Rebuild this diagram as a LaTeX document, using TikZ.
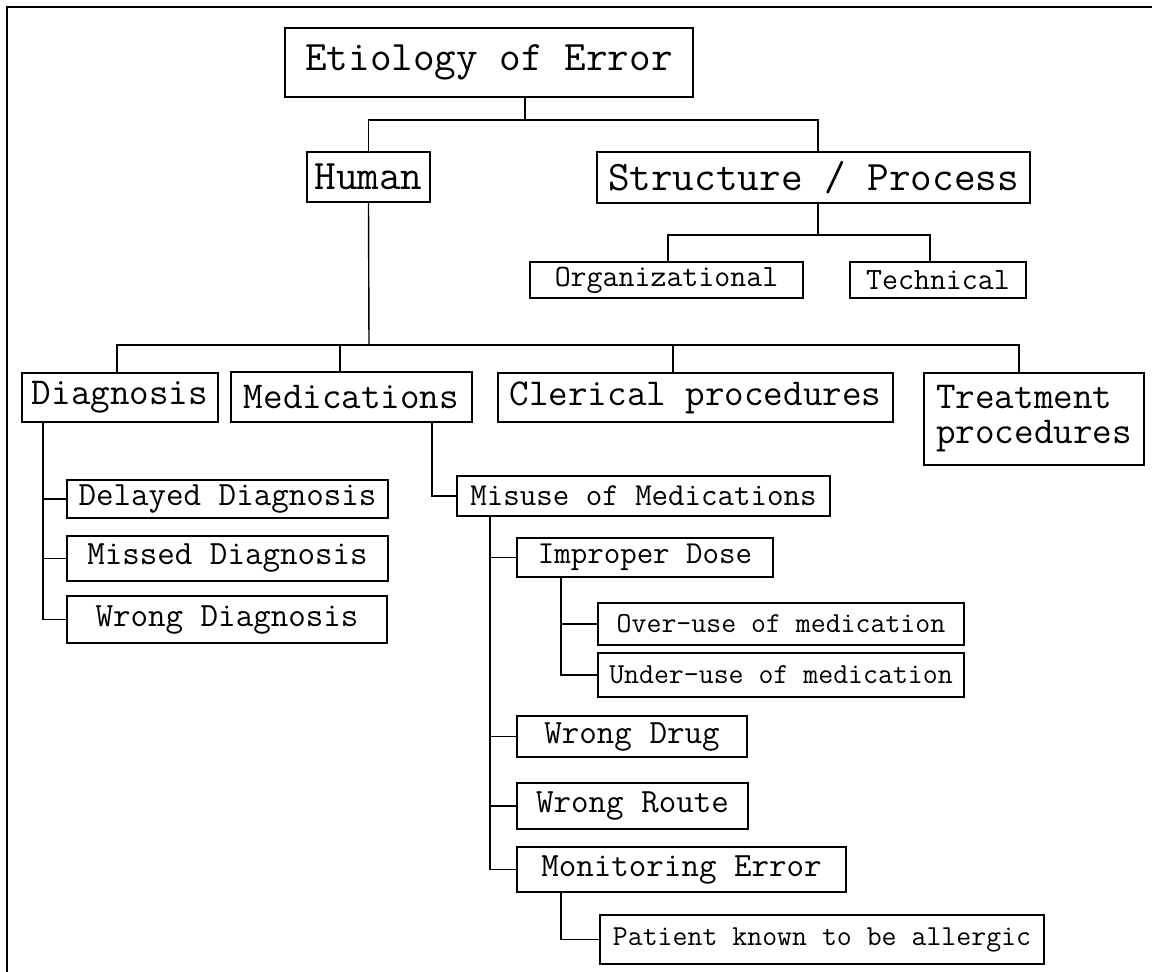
\documentclass[tikz,border=0pt]{standalone}
\usepackage{fontspec}
\begin{document}
\begin{tikzpicture}[x=1pt,y=-1pt,
  box/.style={draw=black,line width=1.4pt,inner sep=0pt,align=center,font=\ttfamily},
  fA/.style={font=\ttfamily\fontsize{42}{44}\selectfont},
  fB/.style={font=\ttfamily\fontsize{38}{35}\selectfont},
  fC/.style={font=\ttfamily\fontsize{34}{36}\selectfont},
  fCs/.style={font=\ttfamily\fontsize{32}{34}\selectfont},
  fD/.style={font=\ttfamily\fontsize{31}{33}\selectfont},
  fE/.style={font=\ttfamily\fontsize{29}{31}\selectfont},
  link/.style={draw=black,line width=1.4pt}]
\useasboundingbox (0,0) rectangle (1152,972);
\fill[white] (0,0) rectangle (1152,972);
\draw[line width=2.5pt] (7,972) -- (7,7) -- (1152,7);
\newcommand\bx[7]{%
  \pgfmathsetmacro\bxw{#4-#2}\pgfmathsetmacro\bxh{#5-#3}%
  \pgfmathsetmacro\bxcx{(#2+#4)/2}\pgfmathsetmacro\bxcy{(#3+#5)/2}%
  \node[box,#6,minimum width=\bxw pt,minimum height=\bxh pt] (#1) at (\bxcx,\bxcy) {#7};}
% boxes
\bx{eti}{285}{28}{693}{97}{fA}{Etiology of Error}
\bx{hum}{307}{152}{430}{202}{fA}{Human}
\bx{sp}{597}{152}{1030}{203}{fA}{Structure / Process}
\bx{org}{530}{262}{803}{298}{fD}{Organizational}
\bx{tec}{850}{262}{1026}{298}{fD}{Technical}
\bx{dia}{22}{373}{218}{422}{fB}{Diagnosis}
\bx{med}{231}{372}{472}{422}{fB}{Medications}
\bx{cle}{498}{373}{893}{422}{fB}{Clerical procedures}
\bx{tre}{924}{373}{1144}{465}{fB,align=left}{Treatment\\procedures}
\bx{del}{67}{480}{388}{518}{fC}{Delayed Diagnosis}
\bx{mis}{67}{536}{388}{581}{fC}{Missed Diagnosis}
\bx{wdi}{67}{596}{387}{643}{fC}{Wrong Diagnosis}
\bx{mu}{457}{476}{830}{516}{fCs}{Misuse of Medications}
\bx{imp}{517}{538}{773}{577}{fCs}{Improper Dose}
\bx{ovr}{598}{603}{964}{645}{fE}{Over-use of medication}
\bx{und}{598}{653}{964}{697}{fE}{Under-use of medication}
\bx{wdr}{517}{716}{747}{757}{fC}{Wrong Drug}
\bx{wro}{517}{783}{748}{829}{fC}{Wrong Route}
\bx{mon}{517}{847}{846}{892}{fC}{Monitoring Error}
\bx{pat}{600}{915}{1044}{964}{fE}{Patient known to be allergic}
% buses
\coordinate (b1) at (525,120);
\coordinate (b2) at (369,345);
\coordinate (b3) at (818,235);
% connectors
\draw[link] (eti.south -| b1) -- (b1);
\draw[link] (hum.north) |- (b1) -| (sp.north -| 818,0);
\draw[link] (sp.south -| b3) -- (b3);
\draw[link] (org.north -| 668,0) |- (b3) -| (tec.north -| 930,0);
\draw[link] (hum.south) -- (b2);
\draw[link] (dia.north -| 117,0) |- (b2);
\draw[link] (med.north -| 340,0) |- (b2);
\draw[link] (cle.north -| 673,0) |- (b2);
\draw[link] (tre.north -| 1019,0) |- (b2);
\draw[link] (dia.south -| 43,0) |- (del.west);
\draw[link] (dia.south -| 43,0) |- (mis.west);
\draw[link] (dia.south -| 43,0) |- (wdi.west);
\draw[link] (med.south -| 432,0) |- (mu.west);
\draw[link] (mu.south -| 490,0) |- (imp.west);
\draw[link] (mu.south -| 490,0) |- (wdr.west);
\draw[link] (mu.south -| 490,0) |- (wro.west);
\draw[link] (mu.south -| 490,0) |- (mon.west);
\draw[link] (imp.south -| 561,0) |- (ovr.west);
\draw[link] (imp.south -| 561,0) |- (und.west);
\draw[link] (mon.south -| 561,0) |- (pat.west);
\end{tikzpicture}
\end{document}
